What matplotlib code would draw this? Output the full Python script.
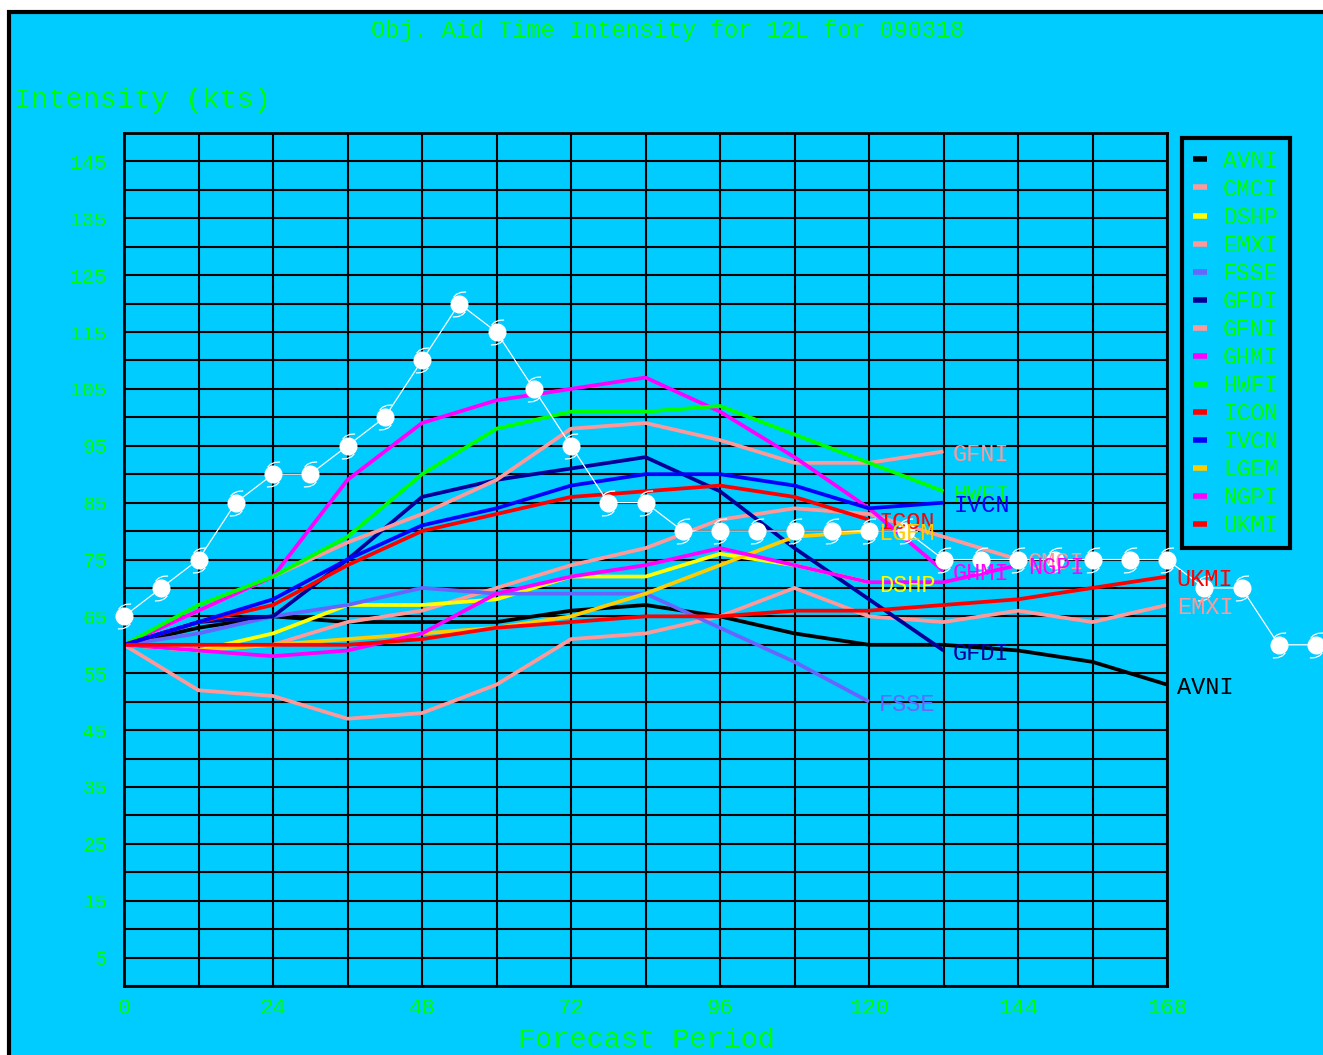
import numpy as np
import matplotlib
matplotlib.use('Agg')
import matplotlib.pyplot as plt
from matplotlib.path import Path
from matplotlib.patches import Rectangle

# dados (kts a cada 12 h)
horas = list(range(0, 169, 12))

modelos = ['AVNI', 'CMCI', 'DSHP', 'EMXI', 'FSSE', 'GFDI', 'GFNI',
           'GHMI', 'HWFI', 'ICON', 'IVCN', 'LGEM', 'NGPI', 'UKMI']
cores = ['#000000', '#FF9999', '#FFFF00', '#FF9999', '#6666FF', '#000099', '#FF9999',
         '#FF00FF', '#00FF00', '#FF0000', '#0000FF', '#FFCC00', '#FF00FF', '#FF0000']

avni = [60, 63, 65, 64, 64, 64, 66, 67, 65, 62, 60, 60, 59, 57, 53]
cmci = [60, 60, 60, 64, 66, 70, 74, 77, 82, 84, 83, 79, 75]
dshp = [60, 59, 62, 67, 67, 68, 72, 72, 76, 74, 71]
emxi = [60, 52, 51, 47, 48, 53, 61, 62, 65, 70, 65, 64, 66, 64, 67]
fsse = [60, 62, 65, 67, 70, 69, 69, 69, 63, 57, 50]
gfdi = [60, 64, 65, 75, 86, 89, 91, 93, 87, 77, 68, 59]
gfni = [60, 66, 72, 78, 83, 89, 98, 99, 96, 92, 92, 94]
ghmi = [60, 66, 72, 89, 99, 103, 105, 107, 101, 93, 84, 73]
hwfi = [60, 67, 72, 79, 90, 98, 101, 101, 102, 97, 92, 87]
icon = [60, 64, 67, 74, 80, 83, 86, 87, 88, 86, 82]
ivcn = [60, 64, 68, 75, 81, 84, 88, 90, 90, 88, 84, 85]
lgem = [60, 59, 60, 61, 62, 63, 65, 69, 74, 79, 80]
ngpi = [60, 59, 58, 59, 62, 69, 72, 74, 77, 74, 71, 71, 74]
ukmi = [60, 60, 60, 60, 61, 63, 64, 65, 65, 66, 66, 67, 68, 70, 72]

valores = [avni, cmci, dshp, emxi, fsse, gfdi, gfni,
           ghmi, hwfi, icon, ivcn, lgem, ngpi, ukmi]

# best track a cada 6 h
horas_bt = list(range(0, 193, 6))
best_track = [65, 70, 75, 85, 90, 90, 95, 100, 110, 120, 115, 105, 95, 85, 85,
              80, 80, 80, 80, 80, 80, 80, 75, 75, 75, 75, 75, 75, 75, 70, 70, 60, 60]

CIANO = '#00CCFF'
VERDE = '#00FF00'
FONTE = 'Liberation Mono'

W, H = 1323, 1055
fig = plt.figure(figsize=(W / 100, H / 100), dpi=100)
fig.patch.set_facecolor('white')

# fundo ciano com borda preta
fig.patches.append(Rectangle((9 / W, -0.05), 1.1, 1 - 12 / H + 0.05,
                             transform=fig.transFigure, facecolor=CIANO,
                             edgecolor='black', linewidth=3, zorder=-10))

ax = fig.add_axes([124 / W, 1 - 986 / H, (1167 - 124) / W, (986 - 133) / H])
ax.set_facecolor(CIANO)
ax.set_xlim(0, 168)
ax.set_ylim(0, 150)

ax.set_xticks(range(0, 169, 12), minor=True)
ax.set_xticks(range(0, 169, 24))
ax.set_yticks(range(0, 151, 5), minor=True)
ax.set_yticks(range(5, 150, 10))
ax.grid(True, which='both', color='black', linewidth=1.5)
ax.set_axisbelow(True)
ax.tick_params(which='both', length=0)
ax.tick_params(axis='x', pad=9, labelsize=16, labelcolor=VERDE)
ax.tick_params(axis='y', pad=12, labelsize=15, labelcolor=VERDE)
for lbl in ax.get_xticklabels() + ax.get_yticklabels():
    lbl.set_family(FONTE)
for sp in ax.spines.values():
    sp.set_color('black')
    sp.set_linewidth(2)

# linhas dos modelos
linhas = []
for nome, cor, vals in zip(modelos, cores, valores):
    h = horas[:len(vals)]
    ln, = ax.plot(h, vals, color=cor, linewidth=2.7, solid_capstyle='butt', label=nome)
    linhas.append(ln)
    ax.annotate(nome, (h[-1], vals[-1]), xytext=(7, -2), textcoords='offset points',
                color=cor, fontsize=17, family=FONTE, va='center', ha='left',
                annotation_clip=False, zorder=6)

# best track com simbolo de furacao
cauda = [(-0.8, 1.0), (-0.4, 1.4), (0.2, 1.65), (0.9, 1.7)]
verts = cauda + [(-x, -y) for x, y in cauda]
codes = [Path.MOVETO] + [Path.LINETO] * 3 + [Path.MOVETO] + [Path.LINETO] * 3
simbolo = Path(verts, codes)

ax.plot(horas_bt, best_track, color='white', linewidth=0.9, clip_on=False, zorder=5)
ax.plot(horas_bt, best_track, linestyle='none', marker='o', markersize=12,
        markerfacecolor='white', markeredgecolor='white', clip_on=False, zorder=5)
ax.plot(horas_bt, best_track, linestyle='none', marker=simbolo, markersize=18,
        markerfacecolor='none', markeredgecolor='white', markeredgewidth=0.9,
        clip_on=False, zorder=5)

# legenda
leg = ax.legend(handles=linhas, loc='upper left',
                bbox_to_anchor=(1182 / W, 1 - 138 / H), bbox_transform=fig.transFigure,
                frameon=True, fancybox=False, framealpha=1, facecolor=CIANO,
                edgecolor='black', handlelength=0.6, handletextpad=0.7,
                labelspacing=0.22, borderpad=0.5, borderaxespad=0,
                labelcolor=VERDE, prop={'family': FONTE, 'size': 16.5})
leg.get_frame().set_linewidth(3)
leg.set_zorder(10)
for lh in leg.legend_handles:
    lh.set_linewidth(4)

fig.text(668 / W, 1 - 30 / H, 'Obj. Aid Time Intensity for 12L for 090318',
         color=VERDE, fontsize=17, family=FONTE, ha='center', va='center')
fig.text(14 / W, 1 - 100 / H, 'Intensity (kts)', color=VERDE, fontsize=20.5,
         family=FONTE, ha='left', va='center')
fig.text(646 / W, 1 - 1040 / H, 'Forecast Period', color=VERDE, fontsize=20.5,
         family=FONTE, ha='center', va='center')

fig.savefig('out.png', dpi=100, facecolor=fig.get_facecolor())
